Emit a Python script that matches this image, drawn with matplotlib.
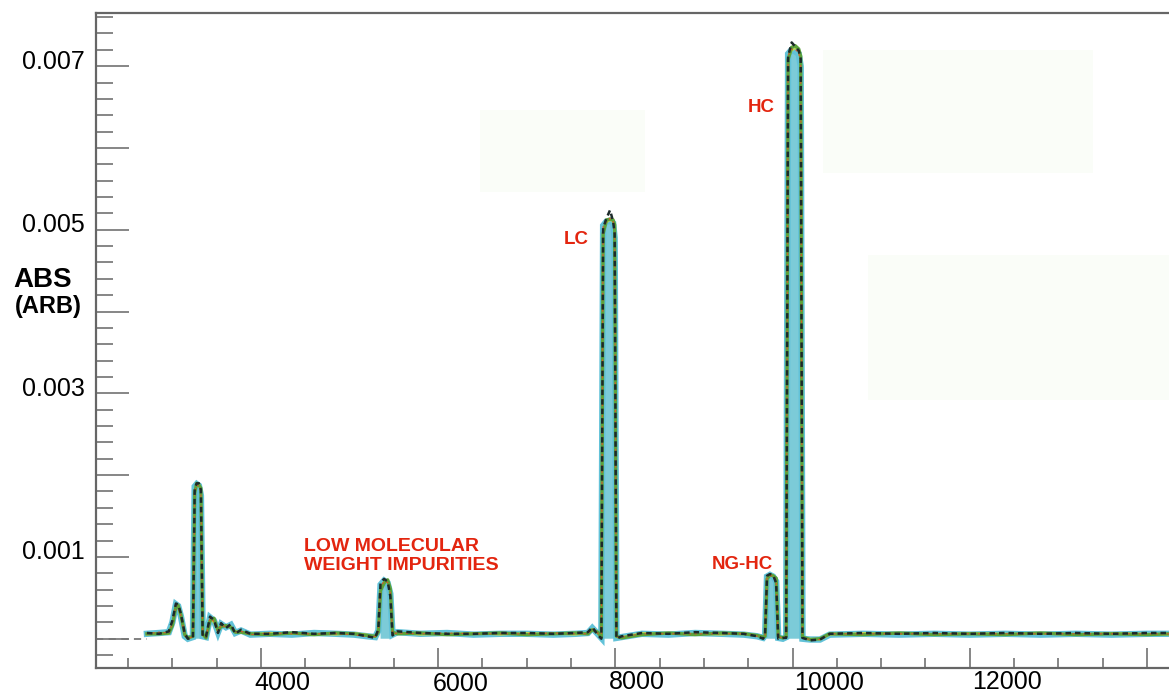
import matplotlib

matplotlib.use("Agg")
import matplotlib.pyplot as plt
from matplotlib.patches import Rectangle
from matplotlib.ticker import MultipleLocator
from matplotlib.transforms import ScaledTranslation
import numpy as np

plt.rcParams["font.family"] = ["Liberation Sans", "DejaVu Sans"]

# elution axis knots shared by all overlaid traces
x_knots = [
    2713, 2850, 2960, 3000, 3040, 3065, 3095, 3140, 3175, 3232,
    3252, 3275, 3300, 3322, 3342, 3380, 3425, 3470, 3515, 3550,
    3605, 3660, 3710, 3775, 3880, 4100, 4350, 4600, 4850, 5050,
    5200, 5290, 5325, 5350, 5390, 5430, 5460, 5485, 5540, 5800,
    6100, 6400, 6700, 7000, 7300, 7550, 7690, 7740, 7800, 7842,
    7862, 7900, 7940, 7975, 7992, 8012, 8070, 8300, 8600, 8900,
    9200, 9450, 9600, 9668, 9690, 9712, 9745, 9780, 9815, 9838,
    9890, 9928, 9950, 9990, 10030, 10070, 10092, 10112, 10200, 10310,
    10420, 10800, 11200, 11600, 12000, 12400, 12800, 13200, 13600, 14000,
    14250,
]

# absorbance of each run, in units of 1e-4
abs_cyan = [
    0.6, 0.7, 0.8, 2.0, 4.2, 4.0, 2.8, 0.3, 0.0, 0.2,
    18.6, 18.9, 18.7, 17.5, 0.3, 0.2, 2.6, 2.2, 0.8, 1.8,
    1.4, 1.7, 0.7, 1.0, 0.5, 0.6, 0.5, 0.7, 0.6, 0.5,
    0.3, 0.2, 1.0, 6.6, 7.1, 6.8, 5.5, 0.5, 0.8, 0.6,
    0.7, 0.5, 0.6, 0.6, 0.5, 0.6, 0.7, 1.3, 0.6, 0.1,
    50.5, 51.0, 51.1, 50.8, 49.0, 0.1, 0.2, 0.6, 0.5, 0.7,
    0.6, 0.5, 0.3, 0.1, 0.4, 7.6, 7.8, 7.6, 7.0, 0.1,
    0.0, 0.2, 71.5, 72.0, 71.8, 71.5, 70.0, 0.0, -0.1, -0.1,
    0.5, 0.6, 0.5, 0.6, 0.5, 0.6, 0.5, 0.6, 0.5, 0.6,
    0.6,
]
abs_green = [
    0.6, 0.6, 0.7, 1.6, 3.9, 4.1, 3.0, 0.5, 0.1, 0.3,
    17.8, 19.0, 18.8, 18.4, 0.6, 0.1, 2.2, 2.5, 1.0, 1.5,
    1.6, 1.4, 0.8, 0.8, 0.6, 0.5, 0.7, 0.5, 0.7, 0.6,
    0.4, 0.3, 0.8, 5.9, 6.8, 7.2, 6.1, 0.8, 0.6, 0.7,
    0.5, 0.6, 0.7, 0.5, 0.6, 0.7, 0.6, 1.1, 0.8, 0.2,
    49.5, 51.2, 51.3, 51.2, 50.6, 0.3, 0.1, 0.5, 0.7, 0.5,
    0.7, 0.6, 0.4, 0.2, 0.3, 7.3, 7.8, 7.7, 7.4, 0.3,
    0.1, 0.3, 70.8, 72.3, 72.5, 72.1, 71.2, 0.2, -0.1, 0.0,
    0.6, 0.5, 0.7, 0.5, 0.6, 0.5, 0.7, 0.5, 0.6, 0.5,
    0.6,
]
abs_yellow = [
    0.5, 0.7, 0.6, 1.8, 4.0, 3.8, 2.6, 0.4, 0.1, 0.2,
    18.2, 18.7, 18.9, 18.0, 0.4, 0.2, 2.4, 2.0, 0.9, 1.6,
    1.5, 1.5, 0.9, 0.9, 0.6, 0.7, 0.6, 0.6, 0.5, 0.7,
    0.5, 0.2, 0.9, 6.2, 7.0, 7.0, 5.8, 0.6, 0.7, 0.5,
    0.6, 0.7, 0.5, 0.7, 0.6, 0.5, 0.7, 1.2, 0.7, 0.2,
    50.0, 50.9, 51.2, 51.0, 50.2, 0.2, 0.2, 0.7, 0.6, 0.6,
    0.5, 0.7, 0.4, 0.1, 0.3, 7.5, 7.7, 7.8, 7.2, 0.2,
    0.1, 0.2, 71.0, 71.9, 72.2, 72.0, 70.6, 0.1, 0.0, -0.1,
    0.5, 0.7, 0.6, 0.5, 0.7, 0.6, 0.6, 0.5, 0.7, 0.6,
    0.5,
]
abs_black = [
    0.7, 0.6, 0.9, 2.2, 4.3, 4.2, 3.1, 0.6, 0.0, 0.1,
    18.4, 19.0, 19.0, 18.2, 0.2, 0.3, 2.7, 2.3, 0.7, 1.9,
    1.3, 1.8, 0.6, 1.1, 0.6, 0.6, 0.8, 0.6, 0.7, 0.6,
    0.3, 0.1, 1.2, 6.9, 7.3, 7.0, 5.2, 0.4, 0.9, 0.7,
    0.6, 0.6, 0.7, 0.7, 0.6, 0.7, 0.8, 1.4, 0.5, 0.0,
    50.2, 51.4, 52.4, 51.0, 49.5, 0.0, 0.3, 0.7, 0.6, 0.8,
    0.7, 0.6, 0.3, 0.0, 0.5, 7.7, 7.9, 7.8, 6.8, 0.0,
    0.1, 0.1, 71.2, 72.9, 72.4, 71.9, 70.9, 0.1, -0.2, -0.1,
    0.6, 0.7, 0.6, 0.7, 0.6, 0.7, 0.6, 0.7, 0.6, 0.7,
    0.7,
]
abs_red = [
    0.6, 0.8, 0.7, 1.9, 4.1, 3.9, 2.9, 0.4, 0.1, 0.2,
    18.0, 18.8, 18.6, 17.9, 0.4, 0.2, 2.5, 2.1, 0.9, 1.7,
    1.4, 1.6, 0.8, 0.9, 0.5, 0.7, 0.6, 0.6, 0.6, 0.5,
    0.2, 0.3, 0.9, 6.4, 7.0, 6.9, 5.6, 0.6, 0.7, 0.6,
    0.7, 0.6, 0.6, 0.6, 0.7, 0.6, 0.6, 1.2, 0.7, 0.1,
    50.4, 51.0, 51.4, 51.0, 49.8, 0.2, 0.2, 0.6, 0.6, 0.6,
    0.6, 0.6, 0.3, 0.1, 0.4, 7.4, 7.7, 7.7, 7.1, 0.2,
    0.1, 0.2, 71.3, 72.1, 72.0, 71.7, 70.4, 0.1, -0.1, -0.1,
    0.6, 0.6, 0.6, 0.6, 0.6, 0.6, 0.6, 0.6, 0.6, 0.6,
    0.6,
]

lead_x = [2138, 2713]
lead_y = [0.0, 0.0]

x_major = [4000, 6000, 8000, 10000, 12000, 14000]
x_labels = ["4000", "6000", "8000", "10000", "12000", ""]
y_major = [0.0, 0.001, 0.002, 0.003, 0.004, 0.005, 0.006, 0.007]
y_labels = ["", "0.001", "", "0.003", "", "0.005", "", "0.007"]

peak_names = ["LOW MOLECULAR\nWEIGHT IMPURITIES", "LC", "NG-HC", "HC"]
peak_text_x = [4485, 7555, 9429, 9644]
peak_text_y = [0.000841, 0.004829, 0.000853, 0.006443]

W, H = 1169, 695
fig = plt.figure(figsize=(W / 100, H / 100), dpi=100)
ax = fig.add_axes([96 / W, 27 / H, (W - 96) / W, (668 - 13) / H])

# faint scan blotches behind the plot
for (px, py, pw, ph) in [(480, 110, 165, 82), (823, 50, 270, 123), (868, 255, 301, 145)]:
    ax.add_patch(Rectangle((px / W, 1 - (py + ph) / H), pw / W, ph / H,
                           transform=fig.transFigure, color="#fafdf8", lw=0, zorder=0.2))

xs = np.array(x_knots)
scale = 1e-4
cyan = np.array(abs_cyan) * scale
ax.plot(lead_x, lead_y, color="#777777", lw=1.3, ls=(0, (4, 3)), zorder=2)
# peaks read as solid columns in the scan
ax.fill_between(xs, 0, cyan, where=cyan > 5e-4, color="#7ccbd8", lw=0, zorder=1.5)
ax.plot(xs, cyan, color="#62c2d8", lw=4.6, solid_joinstyle="miter", zorder=2)
ax.plot(xs, np.array(abs_yellow) * scale, color="#c2d64c", lw=1.4, zorder=3)
ax.plot(xs, np.array(abs_green) * scale, color="#5ca23a", lw=2.4, zorder=3)
ax.plot(xs, np.array(abs_red) * scale, color="#d8552e", lw=0.8, ls=(0, (2, 3)), zorder=4)
ax.plot(xs, np.array(abs_black) * scale, color="#1c2a2a", lw=1.8, ls=(0, (2.2, 1.6)), zorder=5)

ax.set_xlim(2138, 14249)
ax.set_ylim(-0.000358, 0.00765)

for side in ["left", "bottom", "top"]:
    ax.spines[side].set_color("#666666")
    ax.spines[side].set_linewidth(1.6)
ax.spines["right"].set_visible(False)

ax.set_xticks(x_major, labels=x_labels)
ax.xaxis.set_minor_locator(MultipleLocator(500))
ax.set_yticks(y_major, labels=y_labels)
ax.yaxis.set_minor_locator(MultipleLocator(0.0002))

ax.tick_params(axis="y", which="major", direction="in", length=24, width=1.1,
               color="#666666", pad=8, labelsize=18)
ax.tick_params(axis="y", which="minor", direction="in", length=12.5, width=1.1, color="#666666")
ax.tick_params(axis="x", which="major", direction="in", length=14.4, width=1.1,
               color="#666666", pad=2, labelsize=18)
ax.tick_params(axis="x", which="minor", direction="in", length=7.2, width=1.1, color="#666666")

# the scanned labels sit right of their ticks
x_shift = [21, 23, 22, 37, 37, 0]
x_drop = [0, 1, -1, 0, -1, 0]
for lab, dx, dy in zip(ax.get_xticklabels(), x_shift, x_drop):
    lab.set_transform(lab.get_transform() + ScaledTranslation(dx / 100, -dy / 100, fig.dpi_scale_trans))
for lab in ax.get_yticklabels():
    lab.set_transform(lab.get_transform() + ScaledTranslation(0, 7 / 100, fig.dpi_scale_trans))

fig.text(43 / W, 1 - 280 / H, "ABS", fontsize=20, fontweight="bold", ha="center", va="center")
fig.text(48 / W, 1 - 306 / H, "(ARB)", fontsize=17, fontweight="bold", ha="center", va="center")

for name, tx, ty in zip(peak_names, peak_text_x, peak_text_y):
    ha = "left" if "\n" in name else "center"
    size = 14 if "\n" in name else 13.5
    ax.text(tx, ty, name, color="#e3250f", fontsize=size, fontweight="bold",
            ha=ha, va="baseline", linespacing=1.15, zorder=6)

fig.savefig("out.png", dpi=100)
